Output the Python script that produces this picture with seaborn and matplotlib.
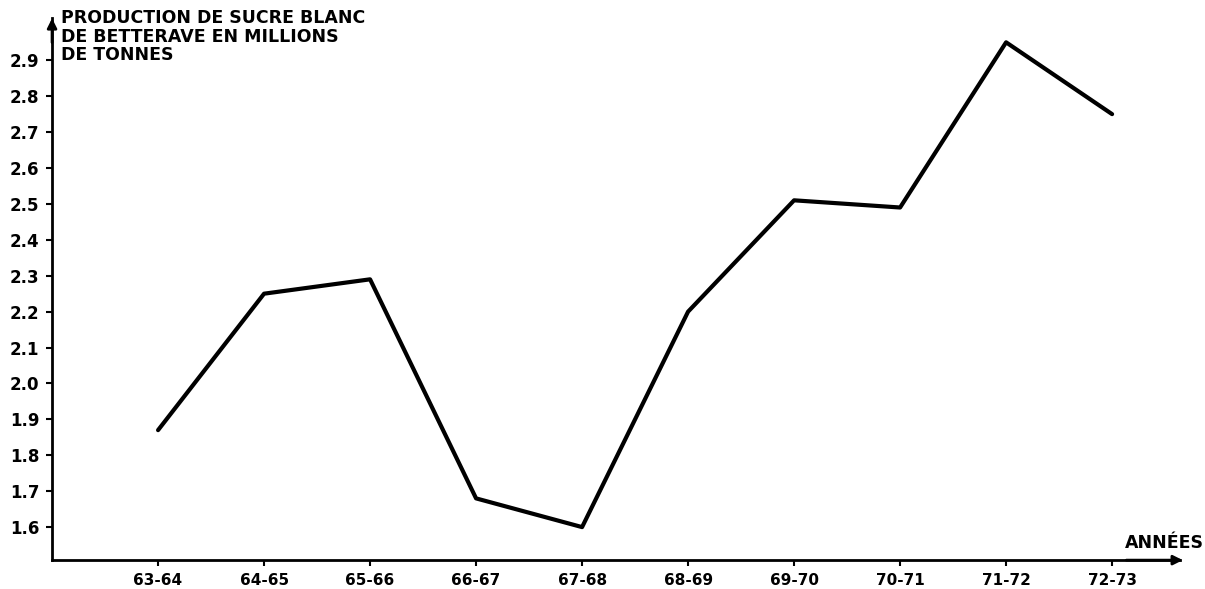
import numpy as np
import matplotlib.pyplot as plt
import seaborn as sns

# campaign years and white beet sugar production (millions of tonnes)
seasons = ["63-64", "64-65", "65-66", "66-67", "67-68",
           "68-69", "69-70", "70-71", "71-72", "72-73"]
production = [1.87, 2.25, 2.29, 1.68, 1.60, 2.20, 2.51, 2.49, 2.95, 2.75]
y_ticks = [1.6, 1.7, 1.8, 1.9, 2.0, 2.1, 2.2, 2.3, 2.4, 2.5, 2.6, 2.7, 2.8, 2.9]

sns.set_theme(style="white")
plt.rcParams['font.family'] = ['DejaVu Sans']
plt.rcParams['text.color'] = "black"
plt.rcParams['xtick.color'] = "black"
plt.rcParams['ytick.color'] = "black"

fig = plt.figure(figsize=(12.05, 5.89), dpi=100)
ax = fig.add_axes([0.0432, 0.049, 0.936, 0.92])

x = np.arange(len(seasons))
sns.lineplot(x=x, y=production, ax=ax, color="black", linewidth=3,
             solid_joinstyle="round", solid_capstyle="round")

ax.set_xlim(-1.0, 9.64)
ax.set_ylim(1.508, 3.017)

ax.set_xticks(x)
ax.set_xticklabels(seasons, fontsize=11, fontweight="bold")
ax.set_yticks(y_ticks)
ax.set_yticklabels([f"{v:.1f}" for v in y_ticks], fontsize=12, fontweight="bold")
ax.tick_params(axis="both", length=4, width=1.5, color="black", pad=5,
               left=True, bottom=True, direction="out")

for side in ["top", "right"]:
    ax.spines[side].set_visible(False)
for side in ["left", "bottom"]:
    ax.spines[side].set_color("black")
    ax.spines[side].set_linewidth(2)

# arrow heads on the axes
ax.annotate("", xy=(0, 1.005), xytext=(0, 0.95), xycoords="axes fraction",
            arrowprops=dict(arrowstyle="-|>", color="black", lw=2,
                            mutation_scale=14), annotation_clip=False)
ax.annotate("", xy=(1.005, 0), xytext=(0.95, 0), xycoords="axes fraction",
            arrowprops=dict(arrowstyle="-|>", color="black", lw=2,
                            mutation_scale=14), annotation_clip=False)

fig.text(0.051, 0.985, "PRODUCTION DE SUCRE BLANC\nDE BETTERAVE EN MILLIONS\nDE TONNES",
         ha="left", va="top", fontsize=12.5, fontweight="bold", linespacing=1.05)
fig.text(0.999, 0.062, "ANNÉES", ha="right", va="bottom",
         fontsize=12.5, fontweight="bold")

plt.savefig("out.png", dpi=100)
